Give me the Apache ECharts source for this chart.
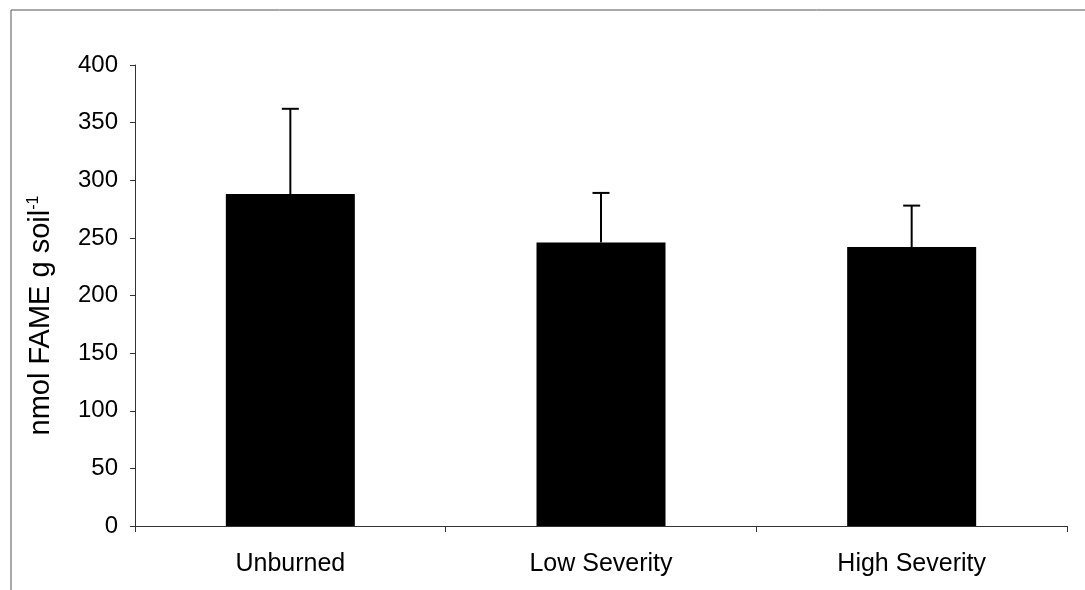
<!DOCTYPE html>
<html>
<head>
<meta charset="utf-8">
<script src="https://cdn.jsdelivr.net/npm/echarts@6/dist/echarts.min.js"></script>
<style>
  html, body { margin: 0; padding: 0; background: #fff; }
  #chart { width: 1085px; height: 590px; }
</style>
</head>
<body>
<div id="chart"></div>
<script>
// Total FAME per treatment, with the upper error value (mean + SE)
const categories = ['Unburned', 'Low Severity', 'High Severity'];
const means = [288, 246, 242];
const errorTops = [362, 289, 278];
const yTicks = { min: 0, max: 400, interval: 50 };

const chart = echarts.init(document.getElementById('chart'), null, { renderer: 'canvas' });

const FONT = 'Liberation Sans, Arial, sans-serif';

chart.setOption({
  animation: false,
  backgroundColor: '#ffffff',
  grid: { left: 135, right: 18, top: 65, bottom: 64 },
  xAxis: {
    type: 'category',
    data: categories,
    axisLine: { lineStyle: { color: '#333', width: 1 } },
    axisTick: { show: true, alignWithLabel: false, length: 6, lineStyle: { color: '#333' } },
    axisLabel: { color: '#000', fontFamily: FONT, fontSize: 25, margin: 26 },
    splitLine: { show: false }
  },
  yAxis: {
    type: 'value',
    min: yTicks.min,
    max: yTicks.max,
    interval: yTicks.interval,
    axisLine: { show: true, lineStyle: { color: '#333', width: 1 } },
    axisTick: { show: true, length: 5, lineStyle: { color: '#333' } },
    axisLabel: { color: '#000', fontFamily: FONT, fontSize: 24, margin: 17 },
    splitLine: { show: false },
    name: '{n|nmol FAME g soil}{s|-1}',
    nameLocation: 'middle',
    nameGap: 80,
    nameTextStyle: {
      padding: [0, 40, 0, 0],
      rich: {
        n: { fontFamily: FONT, fontSize: 29, color: '#000' },
        s: { fontFamily: FONT, fontSize: 16, color: '#000', verticalAlign: 'top', padding: [0, 0, 12, 0] }
      }
    }
  },
  series: [
    {
      type: 'bar',
      data: means,
      barWidth: 129,
      itemStyle: { color: '#000' }
    },
    {
      type: 'custom',
      data: categories.map((c, i) => [i, means[i], errorTops[i]]),
      z: 5,
      renderItem: function (params, api) {
        const i = api.value(0);
        const base = api.coord([i, api.value(1)]);
        const top = api.coord([i, api.value(2)]);
        const half = 8.5;
        const style = { stroke: '#000', lineWidth: 2 };
        return {
          type: 'group',
          children: [
            { type: 'line', shape: { x1: base[0], y1: base[1], x2: top[0], y2: top[1] }, style: style },
            { type: 'line', shape: { x1: top[0] - half, y1: top[1], x2: top[0] + half, y2: top[1] }, style: style }
          ]
        };
      }
    }
  ],
  graphic: [
    { type: 'line', shape: { x1: 11, y1: 10, x2: 1085, y2: 10 }, style: { stroke: '#555', lineWidth: 1 } },
    { type: 'line', shape: { x1: 11, y1: 10, x2: 11, y2: 590 }, style: { stroke: '#555', lineWidth: 1 } }
  ]
});
</script>
</body>
</html>
